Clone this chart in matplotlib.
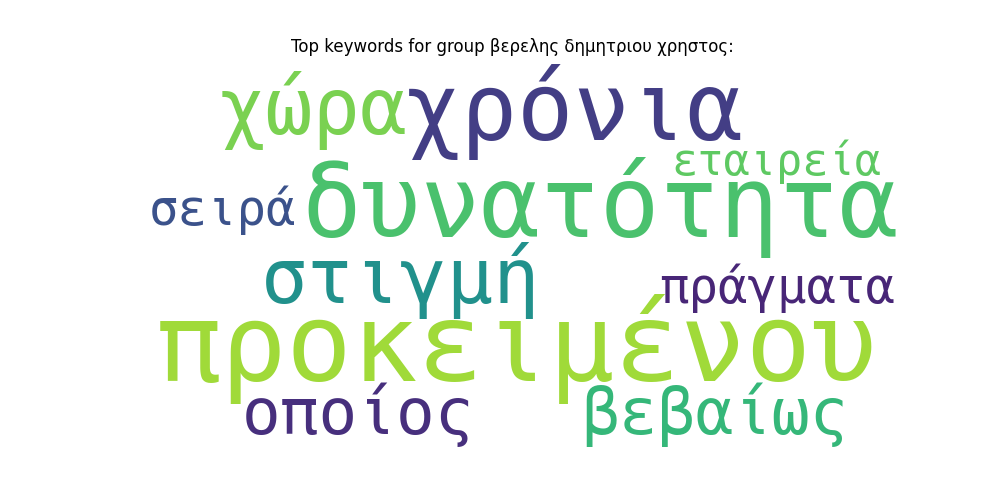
import matplotlib
matplotlib.use("Agg")
from matplotlib import pyplot as plt

group = "βερελης δημητριου χρηστος"

words = ["προκειμένου", "δυνατότητα", "χρόνια", "χώρα", "στιγμή",
         "οποίος", "βεβαίως", "πράγματα", "σειρά", "εταιρεία"]
# relative font size of each word (largest = 1)
weights = [1.00, 0.91, 0.86, 0.72, 0.71, 0.59, 0.58, 0.45, 0.45, 0.40]
colors = ["#a0da39", "#4ac16d", "#433e85", "#7ad151", "#21918c",
          "#472f7d", "#35b779", "#482677", "#3b528b", "#5ec962"]

# where each word sits in the 800x400 cloud canvas (left, baseline)
layout = [(29, 333), (181, 184), (288, 83), (95, 77), (139, 252),
          (119, 389), (471, 389), (552, 252), (22, 171), (565, 120)]

max_size = 78.5

fig, ax = plt.subplots(figsize=(10, 5), dpi=100)
ax.set_xlim(0, 800)
ax.set_ylim(400, 0)
ax.set_aspect("equal")
for w, s, c, (x, y) in zip(words, weights, colors, layout):
    ax.text(x, y, w, fontsize=max_size * s, color=c, family="DejaVu Sans Mono",
            ha="left", va="baseline")
ax.axis("off")
ax.set_title(f"Top keywords for group {group}:")
plt.savefig("out.png")
